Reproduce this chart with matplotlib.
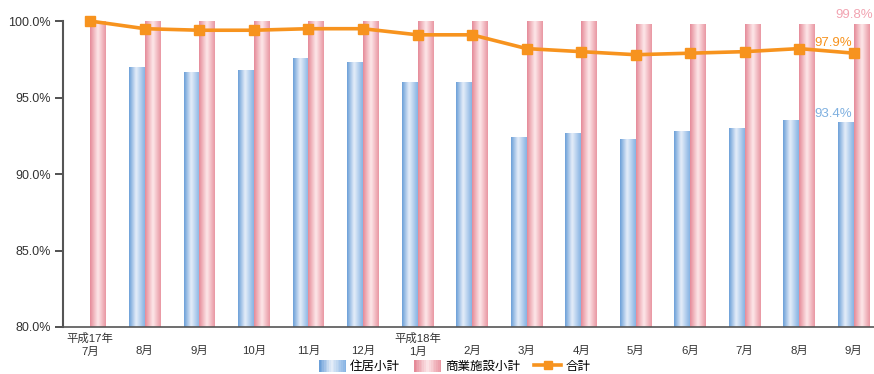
#!/usr/bin/env python3
"""Occupancy rates by month: residential / commercial subtotals and total."""

import matplotlib
matplotlib.use("Agg")
import matplotlib.pyplot as plt
import matplotlib.transforms as mtransforms
import numpy as np
from matplotlib.colors import LinearSegmentedColormap
from matplotlib.legend_handler import HandlerBase
from matplotlib.lines import Line2D
from matplotlib.patches import Rectangle

plt.rcParams["font.family"] = ["Liberation Sans", "Noto Sans CJK JP", "DejaVu Sans"]

months = ["平成17年\n7月", "\n8月", "\n9月", "\n10月", "\n11月", "\n12月", "平成18年\n1月",
          "\n2月", "\n3月", "\n4月", "\n5月", "\n6月", "\n7月", "\n8月", "\n9月"]
residential = [np.nan, 97.0, 96.7, 96.8, 97.6, 97.3, 96.0, 96.0,
               92.4, 92.7, 92.3, 92.8, 93.0, 93.5, 93.4]
commercial = [100.0, 100.0, 100.0, 100.0, 100.0, 100.0, 100.0, 100.0,
              100.0, 100.0, 99.8, 99.8, 99.8, 99.8, 99.8]
total = [100.0, 99.5, 99.4, 99.4, 99.5, 99.5, 99.1, 99.1,
         98.2, 98.0, 97.8, 97.9, 98.0, 98.2, 97.9]

blue_cmap = LinearSegmentedColormap.from_list(
    "blue", [(0, "#6b9fd8"), (0.45, "#e6eef9"), (1, "#86b3e3")])
pink_cmap = LinearSegmentedColormap.from_list(
    "pink", [(0, "#e58a98"), (0.5, "#fde8ea"), (1, "#e996a2")])
orange = "#f7931e"


def gradient_bars(ax, bars, cmap):
    grad = np.linspace(0, 1, 64).reshape(1, -1)
    for bar in bars:
        if not np.isfinite(bar.get_height()):
            continue
        x0, y0 = bar.get_x(), bar.get_y()
        x1, y1 = x0 + bar.get_width(), y0 + bar.get_height()
        im = ax.imshow(grad, cmap=cmap, aspect="auto", extent=(x0, x1, y0, y1),
                       interpolation="bicubic", zorder=2)
        im.set_clip_path(bar)
        bar.set_facecolor("none")
        bar.set_edgecolor("none")


class GradientHandler(HandlerBase):
    def __init__(self, cmap):
        super().__init__()
        self.cmap = cmap

    def create_artists(self, legend, orig_handle, xdescent, ydescent,
                       width, height, fontsize, trans):
        n = 16
        w = width / n
        return [Rectangle((-xdescent + i * w, -ydescent), w * 1.05, height,
                          facecolor=self.cmap(i / (n - 1)), edgecolor="none",
                          transform=trans) for i in range(n)]


fig = plt.figure(figsize=(8.74, 3.74), dpi=100)
ax = fig.add_axes([0.0721, 0.1257, 0.936, 0.818])

x = np.arange(len(months))
width = 0.29
base = 80.0
res_bars = ax.bar(x - width / 2, np.array(residential) - base, width, bottom=base)
com_bars = ax.bar(x + width / 2, np.array(commercial) - base, width, bottom=base)
ax.set_xlim(-0.5, len(months) - 0.5)
ax.set_ylim(80, 100)
gradient_bars(ax, res_bars, blue_cmap)
gradient_bars(ax, com_bars, pink_cmap)

ax.plot(x, total, color=orange, lw=2.6, marker="s", ms=7, zorder=4, clip_on=False)

yticks = np.arange(80, 100.1, 5)
ax.set_yticks(yticks)
ax.set_yticklabels([f"{v:.1f}%" for v in yticks], fontsize=9, color="#333333")
ax.set_xticks(x)
ax.set_xticklabels(months, fontsize=8.2, color="#333333", linespacing=1.4)
ax.tick_params(axis="x", length=0, pad=4)
ax.tick_params(axis="y", length=6, width=1.2, color="#333333", pad=3)
for side in ("top", "right"):
    ax.spines[side].set_visible(False)
ax.spines["left"].set_color("#555555")
ax.spines["left"].set_linewidth(1.5)
ax.spines["bottom"].set_color("#555555")
ax.spines["bottom"].set_linewidth(1.2)

edge = mtransforms.blended_transform_factory(fig.transFigure, ax.transData)
ax.text(0.999, commercial[-1] + 0.2, f"{commercial[-1]:.1f}%", transform=edge,
        color="#f2a3b1", fontsize=9.5, ha="right", va="bottom", clip_on=False)
ax.text(x[-1] - 0.38, total[-1] + 0.25, f"{total[-1]:.1f}%",
        color=orange, fontsize=9.5, ha="center", va="bottom")
ax.text(x[-1] - 0.38, residential[-1] + 0.15, f"{residential[-1]:.1f}%",
        color="#7fb0e0", fontsize=9.5, ha="center", va="bottom")

handles = [Rectangle((0, 0), 1, 1), Rectangle((0, 0), 1, 1),
           Line2D([], [], color=orange, lw=2.6, marker="s", ms=6)]
fig.legend(handles, ["住居小計", "商業施設小計", "合計"], loc="center",
           bbox_to_anchor=(0.52, 0.019), ncol=3, frameon=False, fontsize=9,
           handlelength=2.2, handleheight=1.0, handletextpad=0.3, columnspacing=1.1,
           borderpad=0.1,
           handler_map={handles[0]: GradientHandler(blue_cmap),
                        handles[1]: GradientHandler(pink_cmap)})

fig.savefig("out.png", dpi=100)
